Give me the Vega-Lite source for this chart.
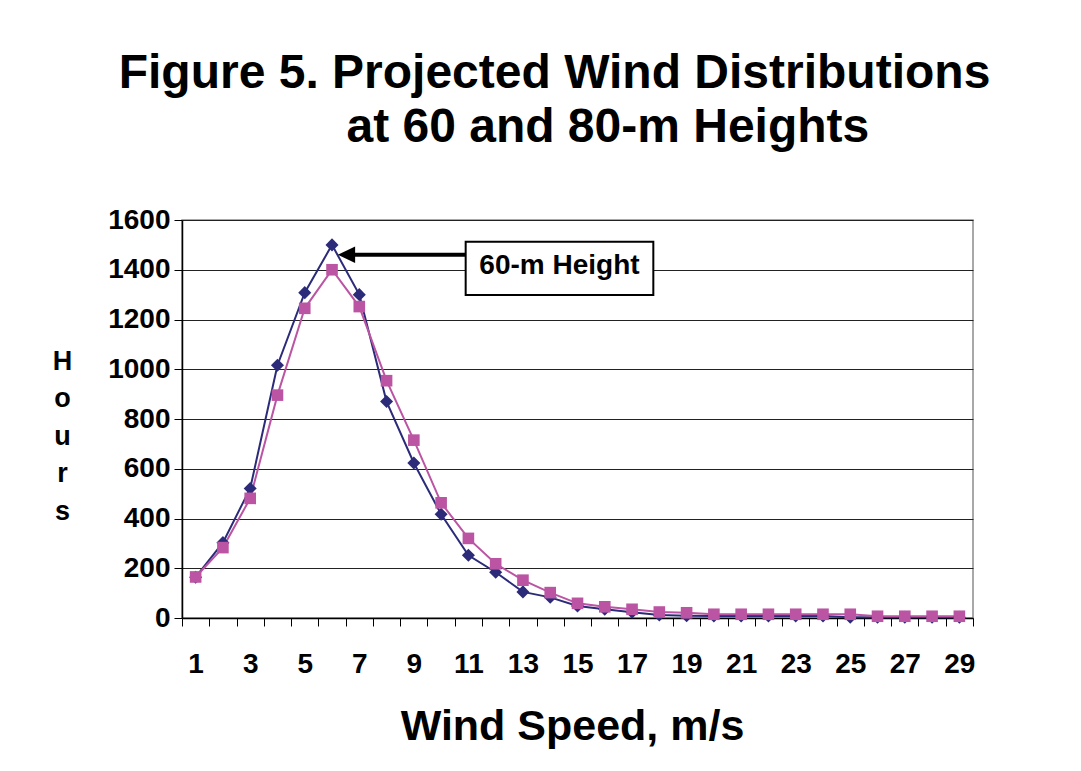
{
  "$schema": "https://vega.github.io/schema/vega-lite/v6.json",
  "width": 791,
  "height": 398,
  "autosize": "none",
  "padding": {"left": 182, "top": 220, "right": 108, "bottom": 153},
  "background": "white",
  "config": {
    "font": "Liberation Sans",
    "view": {"stroke": "#8c8c8c", "strokeWidth": 1.5}
  },
  "title": {
    "text": ["Figure 5. Projected Wind Distributions", "\u200b\u00a0\u00a0\u00a0\u00a0\u00a0\u00a0\u00a0\u00a0at 60 and 80-m Heights"],
    "anchor": "middle",
    "frame": "group",
    "dx": -23,
    "fontSize": 48,
    "fontWeight": "bold",
    "color": "black",
    "lineHeight": 54,
    "offset": 54
  },
  "data": {
    "values": [
      {"speed": 1, "height": "60-m", "hours": 164},
      {"speed": 2, "height": "60-m", "hours": 303},
      {"speed": 3, "height": "60-m", "hours": 521},
      {"speed": 4, "height": "60-m", "hours": 1016},
      {"speed": 5, "height": "60-m", "hours": 1308},
      {"speed": 6, "height": "60-m", "hours": 1500},
      {"speed": 7, "height": "60-m", "hours": 1300},
      {"speed": 8, "height": "60-m", "hours": 870},
      {"speed": 9, "height": "60-m", "hours": 623},
      {"speed": 10, "height": "60-m", "hours": 417},
      {"speed": 11, "height": "60-m", "hours": 252},
      {"speed": 12, "height": "60-m", "hours": 184},
      {"speed": 13, "height": "60-m", "hours": 105},
      {"speed": 14, "height": "60-m", "hours": 83},
      {"speed": 15, "height": "60-m", "hours": 48},
      {"speed": 16, "height": "60-m", "hours": 35},
      {"speed": 17, "height": "60-m", "hours": 23},
      {"speed": 18, "height": "60-m", "hours": 12},
      {"speed": 19, "height": "60-m", "hours": 9},
      {"speed": 20, "height": "60-m", "hours": 8},
      {"speed": 21, "height": "60-m", "hours": 8},
      {"speed": 22, "height": "60-m", "hours": 8},
      {"speed": 23, "height": "60-m", "hours": 8},
      {"speed": 24, "height": "60-m", "hours": 8},
      {"speed": 25, "height": "60-m", "hours": 3},
      {"speed": 26, "height": "60-m", "hours": 3},
      {"speed": 27, "height": "60-m", "hours": 3},
      {"speed": 28, "height": "60-m", "hours": 3},
      {"speed": 29, "height": "60-m", "hours": 3},
      {"speed": 1, "height": "80-m", "hours": 165},
      {"speed": 2, "height": "80-m", "hours": 283},
      {"speed": 3, "height": "80-m", "hours": 481},
      {"speed": 4, "height": "80-m", "hours": 896},
      {"speed": 5, "height": "80-m", "hours": 1245},
      {"speed": 6, "height": "80-m", "hours": 1400},
      {"speed": 7, "height": "80-m", "hours": 1252},
      {"speed": 8, "height": "80-m", "hours": 954},
      {"speed": 9, "height": "80-m", "hours": 715},
      {"speed": 10, "height": "80-m", "hours": 463},
      {"speed": 11, "height": "80-m", "hours": 320},
      {"speed": 12, "height": "80-m", "hours": 218},
      {"speed": 13, "height": "80-m", "hours": 152},
      {"speed": 14, "height": "80-m", "hours": 102},
      {"speed": 15, "height": "80-m", "hours": 59},
      {"speed": 16, "height": "80-m", "hours": 45},
      {"speed": 17, "height": "80-m", "hours": 35},
      {"speed": 18, "height": "80-m", "hours": 24},
      {"speed": 19, "height": "80-m", "hours": 21},
      {"speed": 20, "height": "80-m", "hours": 15},
      {"speed": 21, "height": "80-m", "hours": 15},
      {"speed": 22, "height": "80-m", "hours": 15},
      {"speed": 23, "height": "80-m", "hours": 15},
      {"speed": 24, "height": "80-m", "hours": 15},
      {"speed": 25, "height": "80-m", "hours": 15},
      {"speed": 26, "height": "80-m", "hours": 7},
      {"speed": 27, "height": "80-m", "hours": 7},
      {"speed": 28, "height": "80-m", "hours": 7},
      {"speed": 29, "height": "80-m", "hours": 7}
    ]
  },
  "encoding": {
    "x": {
      "field": "speed",
      "type": "quantitative",
      "scale": {"domain": [0.5, 29.5], "nice": false, "zero": false},
      "axis": {
        "title": "Wind Speed, m/s",
        "titleFontSize": 43,
        "titleFontWeight": "bold",
        "titleColor": "black",
        "titleX": 390,
        "titleY": 121,
        "titleBaseline": "alphabetic",
        "titleAlign": "center",
        "values": [0.5, 1, 1.5, 2, 2.5, 3, 3.5, 4, 4.5, 5, 5.5, 6, 6.5, 7, 7.5, 8, 8.5, 9, 9.5, 10, 10.5, 11, 11.5, 12, 12.5, 13, 13.5, 14, 14.5, 15, 15.5, 16, 16.5, 17, 17.5, 18, 18.5, 19, 19.5, 20, 20.5, 21, 21.5, 22, 22.5, 23, 23.5, 24, 24.5, 25, 25.5, 26, 26.5, 27, 27.5, 28, 28.5, 29, 29.5],
        "labelExpr": "datum.value % 2 === 1 ? format(datum.value, 'd') : ''",
        "labelFontSize": 28,
        "labelFontWeight": "bold",
        "labelColor": "black",
        "labelBaseline": "top",
        "labelPadding": 24,
        "labelFlush": false,
        "labelOverlap": false,
        "tickSize": 8,
        "tickColor": "black",
        "tickWidth": 1,
        "tickOpacity": {"condition": {"test": "datum.value % 1 === 0", "value": 0}, "value": 1},
        "domainColor": "black",
        "domainWidth": 1.5,
        "grid": false
      }
    },
    "y": {
      "field": "hours",
      "type": "quantitative",
      "scale": {"domain": [0, 1600], "nice": false},
      "axis": {
        "title": ["H", "o", "u", "r", "s"],
        "titleAngle": 0,
        "titleFontSize": 27,
        "titleFontWeight": "bold",
        "titleColor": "black",
        "titleLineHeight": 37.5,
        "titleX": -120,
        "titleY": 128,
        "titleAlign": "center",
        "titleBaseline": "top",
        "values": [0, 200, 400, 600, 800, 1000, 1200, 1400, 1600],
        "format": "d",
        "labelFontSize": 28,
        "labelFontWeight": "bold",
        "labelColor": "black",
        "labelPadding": 4,
        "tickSize": 8,
        "tickColor": "black",
        "domainColor": "black",
        "domainWidth": 1.5,
        "grid": true,
        "gridColor": "#222222",
        "gridWidth": 1
      }
    }
  },
  "layer": [
    {
      "mark": {"type": "line", "strokeWidth": 2},
      "encoding": {
        "color": {
          "field": "height",
          "type": "nominal",
          "scale": {"domain": ["60-m", "80-m"], "range": ["#2b2b7a", "#bb55a3"]},
          "legend": null
        }
      }
    },
    {
      "mark": {"type": "point", "filled": true, "opacity": 1},
      "encoding": {
        "color": {
          "field": "height",
          "type": "nominal",
          "scale": {"domain": ["60-m", "80-m"], "range": ["#2b2b7a", "#bb55a3"]},
          "legend": null
        },
        "shape": {
          "field": "height",
          "type": "nominal",
          "scale": {"domain": ["60-m", "80-m"], "range": ["diamond", "square"]},
          "legend": null
        },
        "size": {
          "field": "height",
          "type": "nominal",
          "scale": {"domain": ["60-m", "80-m"], "range": [170, 135]},
          "legend": null
        }
      }
    },
    {
      "transform": [{"filter": "datum.height === '60-m' && datum.hours === 1500"}],
      "mark": {"type": "rule", "color": "black", "strokeWidth": 4},
      "encoding": {
        "x": {"datum": 10.9},
        "x2": {"datum": 6.7},
        "y": {"datum": 1460}
      }
    },
    {
      "transform": [{"filter": "datum.height === '60-m' && datum.hours === 1500"}],
      "mark": {"type": "point", "shape": "M -1 0 L 1 -0.95 L 1 0.95 Z", "filled": true, "color": "black", "opacity": 1, "size": 300},
      "encoding": {
        "x": {"datum": 6.53},
        "y": {"datum": 1460}
      }
    },
    {
      "transform": [{"filter": "datum.height === '60-m' && datum.hours === 1500"}],
      "mark": {"type": "rect", "fill": "white", "stroke": "black", "strokeWidth": 2},
      "encoding": {
        "x": {"datum": 10.9},
        "x2": {"datum": 17.78},
        "y": {"datum": 1513},
        "y2": {"datum": 1298}
      }
    },
    {
      "transform": [{"filter": "datum.height === '60-m' && datum.hours === 1500"}],
      "mark": {"type": "text", "fontSize": 28, "fontWeight": "bold", "color": "black", "align": "center", "baseline": "alphabetic"},
      "encoding": {
        "x": {"datum": 14.34},
        "y": {"datum": 1383},
        "text": {"value": "60-m Height"}
      }
    }
  ]
}
